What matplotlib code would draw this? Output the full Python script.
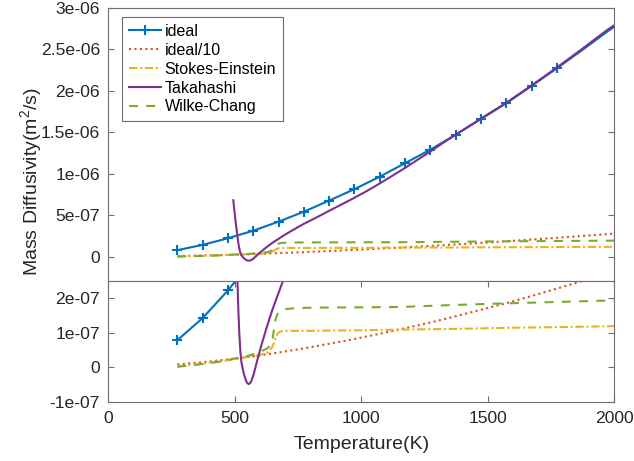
import matplotlib
matplotlib.use('Agg')
import matplotlib.pyplot as plt
from matplotlib.lines import Line2D
from matplotlib.ticker import FixedLocator, FixedFormatter

plt.rcParams['font.family'] = ['Liberation Sans', 'DejaVu Sans']
plt.rcParams['mathtext.fontset'] = 'custom'
plt.rcParams['mathtext.rm'] = 'Liberation Sans'
plt.rcParams['mathtext.it'] = 'Liberation Sans:italic'

# ---------------- data (diffusivity in units of 1e-6 m^2/s) ----------------
T_ideal = [273, 373, 473, 573, 673, 773, 873, 973, 1073, 1173, 1273, 1373,
           1473, 1573, 1673, 1773, 1873, 1973, 2000]
ideal = [0.078, 0.142, 0.222, 0.313, 0.422, 0.542, 0.676, 0.814, 0.964, 1.127,
         1.29, 1.471, 1.66, 1.849, 2.058, 2.271, 2.49, 2.715, 2.772]
ideal_10 = [0.0078, 0.0142, 0.0222, 0.0313, 0.0422, 0.0542, 0.0676, 0.0814,
            0.0964, 0.1127, 0.129, 0.1471, 0.166, 0.1849, 0.2058, 0.2271,
            0.249, 0.2715, 0.2772]
n_markers = 16

T_se = [273, 350, 450, 500, 550, 600, 630, 645, 655, 662, 670, 680, 700, 800,
        900, 1000, 1100, 1200, 1400, 1600, 1800, 2000]
stokes = [0.002, 0.008, 0.017, 0.023, 0.029, 0.035, 0.043, 0.055, 0.07, 0.087,
          0.098, 0.103, 0.105, 0.105, 0.106, 0.1065, 0.108, 0.109, 0.111,
          0.114, 0.116, 0.1185]

T_tk = [494, 498, 502, 506, 510, 514, 518, 522, 526, 530, 536, 543, 549, 555,
        561, 567, 575, 587, 600, 613, 626, 649, 672, 692, 720, 767, 820, 870,
        920, 968, 1020, 1070, 1120, 1171, 1220, 1273, 1320, 1373, 1473, 1573,
        1673, 1773, 1873, 1973, 2000]
takahashi = [0.68, 0.565, 0.455, 0.355, 0.26, 0.165, 0.095, 0.045, 0.015, 0.0,
             -0.02, -0.037, -0.046, -0.049, -0.046, -0.037, -0.02, 0.015, 0.05,
             0.083, 0.115, 0.167, 0.213, 0.252, 0.304, 0.386, 0.468, 0.548,
             0.626, 0.702, 0.788, 0.877, 0.97, 1.066, 1.163, 1.268, 1.365,
             1.47, 1.664, 1.855, 2.064, 2.28, 2.505, 2.735, 2.79]

T_wc = [273, 350, 450, 500, 550, 600, 630, 642, 650, 655, 660, 667, 680, 700,
        750, 800, 1000, 1154, 1300, 1500, 1700, 2000]
wilke = [0.001, 0.007, 0.017, 0.025, 0.032, 0.044, 0.055, 0.066, 0.085, 0.11,
         0.134, 0.152, 0.163, 0.168, 0.171, 0.172, 0.173, 0.174, 0.178, 0.183,
         0.187, 0.193]

labels = ['ideal', 'ideal/10', 'Stokes-Einstein', 'Takahashi', 'Wilke-Chang']

x_ticks = [0, 500, 1000, 1500, 2000]
x_ticklabels = ['0', '500', '1000', '1500', '2000']
top_ticks = [0, 0.5, 1.0, 1.5, 2.0, 2.5, 3.0]
top_ticklabels = ['0', '5e-07', '1e-06', '1.5e-06', '2e-06', '2.5e-06', '3e-06']
bot_ticks = [-0.1, 0, 0.1, 0.2]
bot_ticklabels = ['-1e-07', '0', '1e-07', '2e-07']

# ---------------- styling ----------------
C_BLUE = '#0072BD'
C_RED = '#D95319'
C_YEL = '#EDB120'
C_PUR = '#7E2F8E'
C_GRN = '#77AC30'
TXT_COL = '#262626'
AX_COL = '#6e6e6e'
LW = 1.5

STY = [
    dict(color=C_BLUE, lw=LW, marker='+', markersize=7, markeredgewidth=1.5),
    dict(color=C_RED, lw=LW, linestyle=(0, (1, 1.6))),
    dict(color=C_YEL, lw=LW, linestyle=(0, (4, 1.3, 1, 1.3))),
    dict(color=C_PUR, lw=LW),
    dict(color=C_GRN, lw=LW, linestyle=(0, (4.3, 4.0))),
]

W_PX, H_PX = 634, 461
fig = plt.figure(figsize=(W_PX / 100, H_PX / 100), dpi=100)

left_px, right_px = 108.3, 614.3
top_top, top_bot = 7.8, 280.7
bot_top, bot_bot = 280.7, 401.7

def frac_rect(l, r, t, b):
    return [l / W_PX, 1 - b / H_PX, (r - l) / W_PX, (b - t) / H_PX]

ax_top = fig.add_axes(frac_rect(left_px, right_px, top_top, top_bot))
ax_bot = fig.add_axes(frac_rect(left_px, right_px, bot_top, bot_bot))

def draw(ax):
    ax.plot(T_ideal, ideal, markevery=list(range(n_markers)), **STY[0])
    ax.plot(T_ideal, ideal_10, **STY[1])
    ax.plot(T_se, stokes, **STY[2])
    ax.plot(T_tk, takahashi, **STY[3])
    ax.plot(T_wc, wilke, **STY[4])

draw(ax_top)
draw(ax_bot)

for ax in (ax_top, ax_bot):
    ax.set_xlim(0, 2000)
    for s in ax.spines.values():
        s.set_color(AX_COL)
        s.set_linewidth(0.8)
    ax.tick_params(direction='in', length=4, width=0.8, color=AX_COL,
                   labelcolor=TXT_COL, labelsize=12.6, right=True)
    ax.xaxis.set_major_locator(FixedLocator(x_ticks))

ax_top.set_ylim(-0.29, 3.0)
ax_top.yaxis.set_major_locator(FixedLocator(top_ticks))
ax_top.yaxis.set_major_formatter(FixedFormatter(top_ticklabels))
ax_top.tick_params(axis='x', bottom=False, top=False, labelbottom=False)
ax_top.tick_params(axis='y', pad=6)

ax_bot.set_ylim(-0.1, 0.25)
ax_bot.yaxis.set_major_locator(FixedLocator(bot_ticks))
ax_bot.yaxis.set_major_formatter(FixedFormatter(bot_ticklabels))
ax_bot.xaxis.set_major_formatter(FixedFormatter(x_ticklabels))
ax_bot.tick_params(axis='x', top=True, pad=7)
ax_bot.tick_params(axis='y', pad=6)

fig.text(361.5 / W_PX, 1 - 449.3 / H_PX, 'Temperature(K)', ha='center',
         va='baseline', fontsize=14, color=TXT_COL)
fig.text(31 / W_PX, 1 - 182 / H_PX, 'Mass Diffusivity(m$^2$/s)', ha='center',
         va='center', rotation=90, fontsize=14, color=TXT_COL)

proxies = [Line2D([], [], **s) for s in STY]
leg = ax_top.legend(proxies, labels, loc='upper left', numpoints=1,
                    bbox_to_anchor=(122 / W_PX, 1 - 17.3 / H_PX),
                    bbox_transform=fig.transFigure, borderaxespad=0,
                    fontsize=11.5, frameon=True, fancybox=False, shadow=False,
                    framealpha=1, edgecolor=AX_COL, borderpad=0.42,
                    labelspacing=0.24, handlelength=2.05, handletextpad=0.2)
leg.get_frame().set_linewidth(0.8)
for t in leg.get_texts():
    t.set_color('#000000')

fig.savefig('out.png', dpi=100)
